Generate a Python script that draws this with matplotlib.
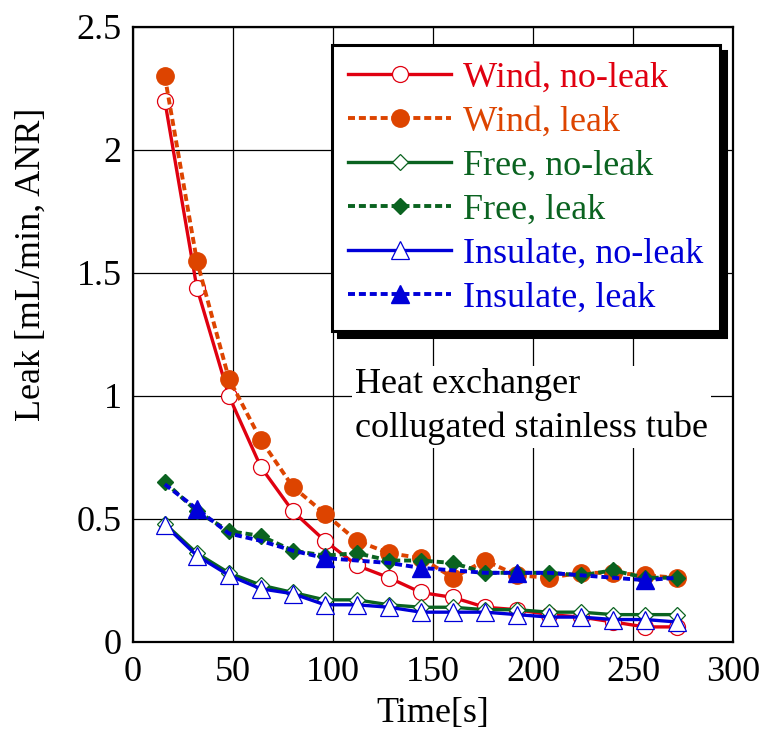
import numpy as np
import matplotlib.pyplot as plt

plt.rcParams['font.family'] = ['Liberation Serif', 'DejaVu Serif']

time_s = [16, 32, 48, 64, 80, 96, 112, 128, 144, 160, 176, 192, 208, 224, 240, 256, 272]

wind_noleak = [2.20, 1.44, 1.00, 0.71, 0.53, 0.41, 0.31, 0.26, 0.20, 0.18, 0.14, 0.13, 0.11, 0.10, 0.08, 0.06, 0.06]
wind_leak = [2.30, 1.55, 1.07, 0.82, 0.63, 0.52, 0.41, 0.36, 0.34, 0.26, 0.33, 0.27, 0.26, 0.28, 0.28, 0.27, 0.26]
free_noleak = [0.48, 0.36, 0.28, 0.23, 0.20, 0.17, 0.17, 0.15, 0.14, 0.14, 0.13, 0.13, 0.12, 0.12, 0.11, 0.11, 0.11]
free_leak = [0.65, 0.53, 0.45, 0.43, 0.37, 0.35, 0.36, 0.33, 0.33, 0.32, 0.28, 0.28, 0.28, 0.27, 0.29, 0.26, 0.26]
insul_noleak = [0.475, 0.35, 0.27, 0.215, 0.195, 0.15, 0.15, 0.14, 0.12, 0.12, 0.12, 0.11, 0.10, 0.10, 0.09, 0.09, 0.08]
insul_leak = [0.64, 0.54, 0.44, 0.41, 0.37, 0.34, 0.33, 0.32, 0.30, 0.29, 0.28, 0.28, 0.28, 0.27, 0.26, 0.25, 0.26]

red = '#e00010'
orange = '#dd4400'
green = '#0a6320'
blue = '#0000d8'

fig = plt.figure(figsize=(7.63, 7.47), dpi=100)
ax = fig.add_axes([0.174, 0.141, 0.787, 0.823])

dot = (0, (1.8, 1.0))
ax.plot(time_s, wind_noleak, color=red, lw=2.4, marker='o', ms=11.5, mfc='white', mec=red, mew=0.9, label='Wind, no-leak')
ax.plot(time_s, wind_leak, color=orange, lw=2.8, ls=dot, marker='o', ms=12.5, mfc=orange, mec=orange, label='Wind, leak')
ax.plot(time_s, free_noleak, color=green, lw=2.4, marker='D', ms=8.5, mfc='white', mec=green, mew=0.9, label='Free, no-leak')
ax.plot(time_s, free_leak, color=green, lw=2.8, ls=dot, marker='D', ms=8.5, mfc=green, mec=green, label='Free, leak')
ax.plot(time_s, insul_noleak, color=blue, lw=2.4, marker='^', ms=13, mfc='white', mec=blue, mew=0.9, label='Insulate, no-leak')
ax.plot(time_s, insul_leak, color=blue, lw=2.8, ls=dot, marker='^', ms=13, mfc=blue, mec=blue,
        markevery=[1, 5, 8, 11, 15], label='Insulate, leak')

ax.set_xlim(0, 300)
ax.set_ylim(0, 2.5)
ax.set_xticks([0, 50, 100, 150, 200, 250, 300])
ax.set_yticks([0, 0.5, 1, 1.5, 2, 2.5])
ax.set_yticklabels(['0', '0.5', '1', '1.5', '2', '2.5'])
ax.tick_params(length=0, labelsize=26)
ax.tick_params(axis='x', pad=10)
ax.tick_params(axis='y', pad=8)
ax.grid(True, color='black', lw=0.9)
ax.set_axisbelow(True)
for s in ax.spines.values():
    s.set_linewidth(1.6)

ax.set_xlabel('Time[s]', fontsize=26, labelpad=6)
ax.set_ylabel('Leak [mL/min, ANR]', fontsize=26)
ax.yaxis.set_label_coords(-0.142, 0.613)

leg = ax.legend(loc='upper left', bbox_to_anchor=(0.332, 0.971), borderaxespad=0, fontsize=26,
                handlelength=2.85, handletextpad=0.33, borderpad=0.45, labelspacing=0.3,
                fancybox=False, framealpha=1, edgecolor='black',
                shadow={'ox': 4.5, 'oy': -4.5, 'color': 'black', 'alpha': 1})
leg.get_frame().set_linewidth(2.2)
for txt, c in zip(leg.get_texts(), [red, orange, green, green, blue, blue]):
    txt.set_color(c)

ax.text(0.37, 0.382, 'Heat exchanger\ncollugated stainless tube', transform=ax.transAxes,
        fontsize=26, va='center', ha='left', linespacing=1.4,
        bbox=dict(facecolor='white', edgecolor='none', pad=2))

fig.savefig('out.png', dpi=100)
